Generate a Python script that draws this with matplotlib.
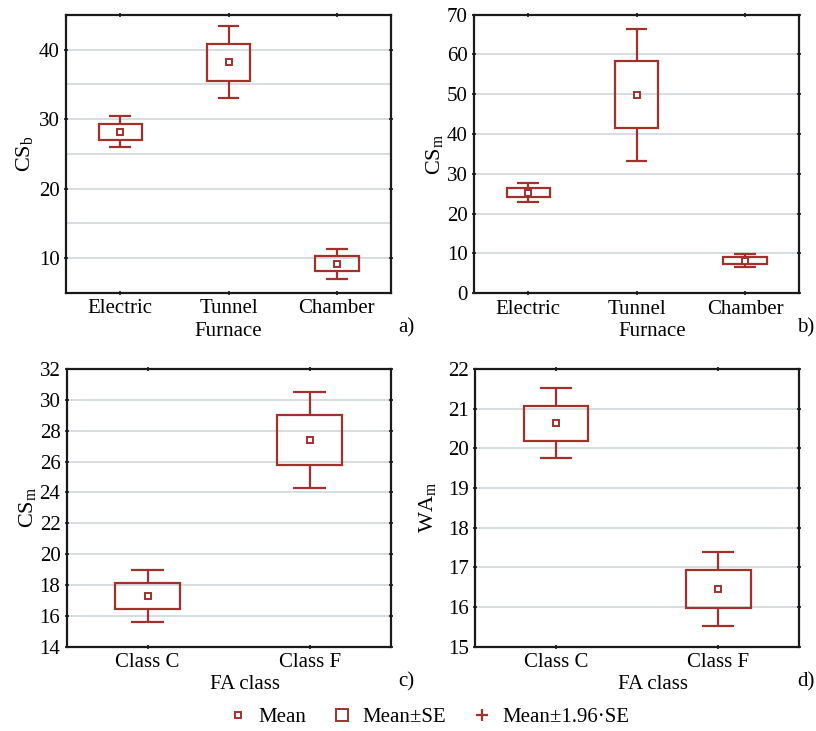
import numpy as np
import matplotlib
matplotlib.use('Agg')
import matplotlib.pyplot as plt
from matplotlib.lines import Line2D
from matplotlib.ticker import MultipleLocator

plt.rcParams['font.family'] = 'Liberation Serif'
plt.rcParams['mathtext.fontset'] = 'custom'
plt.rcParams['mathtext.rm'] = 'Liberation Serif'
plt.rcParams['mathtext.it'] = 'Liberation Serif'

# --- dados: média e erro padrão por grupo ---
fornos = ['Electric', 'Tunnel', 'Chamber']
csb_media = [28.2, 38.2, 9.2]
csb_ep = [1.15, 2.65, 1.1]
csm_forno_media = [25.3, 49.9, 8.2]
csm_forno_ep = [1.2, 8.45, 0.8]

classes = ['Class C', 'Class F']
csm_classe_media = [17.3, 27.4]
csm_classe_ep = [0.85, 1.6]
wam_media = [20.63, 16.45]
wam_ep = [0.45, 0.475]

COR = '#a2302c'
GRADE = '#d3dbde'


def desenhar_caixas(ax, nomes, media, ep, largura=0.4, tampa=0.2):
    x = np.arange(len(nomes))
    media = np.asarray(media)
    ep = np.asarray(ep)
    # caixa = média ± EP
    ax.bar(x, 2 * ep, bottom=media - ep, width=largura, fill=False,
           edgecolor=COR, linewidth=1.6, zorder=3)
    # bigodes = média ± 1.96·EP
    ax.vlines(x, media + ep, media + 1.96 * ep, color=COR, lw=1.6, zorder=3)
    ax.vlines(x, media - 1.96 * ep, media - ep, color=COR, lw=1.6, zorder=3)
    ax.hlines(media + 1.96 * ep, x - tampa / 2, x + tampa / 2, color=COR, lw=1.6, zorder=3)
    ax.hlines(media - 1.96 * ep, x - tampa / 2, x + tampa / 2, color=COR, lw=1.6, zorder=3)
    ax.plot(x, media, 's', ms=4, mfc='white', mec=COR, mew=1.4, zorder=4)
    ax.set_xlim(-0.5, len(nomes) - 0.5)
    ax.set_xticks(x)
    ax.set_xticklabels(nomes)


def estilo(ax, ylim, maior, menor=None):
    ax.set_ylim(*ylim)
    ax.yaxis.set_major_locator(MultipleLocator(maior))
    if menor:
        ax.yaxis.set_minor_locator(MultipleLocator(menor))
        ax.grid(True, axis='y', which='minor', color=GRADE, lw=1.3, zorder=0)
    ax.grid(True, axis='y', which='major', color=GRADE, lw=1.3, zorder=0)
    ax.set_axisbelow(True)
    for s in ax.spines.values():
        s.set_linewidth(1.6)
        s.set_color('#1a1a1a')
    ax.tick_params(which='major', direction='inout', length=3, width=1.2,
                   top=True, right=True, labelsize=15, pad=3, color='#1a1a1a')
    ax.tick_params(which='minor', length=0)


fig = plt.figure(figsize=(8.16, 7.31), dpi=100)
ax_a = fig.add_axes([0.0809, 0.5992, 0.3983, 0.3803])
ax_b = fig.add_axes([0.5809, 0.5988, 0.3986, 0.3811])
ax_c = fig.add_axes([0.0817, 0.1153, 0.3971, 0.3799])
ax_d = fig.add_axes([0.5821, 0.1153, 0.3974, 0.3799])

desenhar_caixas(ax_a, fornos, csb_media, csb_ep)
estilo(ax_a, (5, 45), 10, 5)
ax_a.set_ylabel(r'CS$_\mathrm{b}$', fontsize=16)
ax_a.yaxis.set_label_coords(-0.095, 0.5)
ax_a.set_xlabel('Furnace', fontsize=15)
ax_a.xaxis.set_label_coords(0.5, -0.104)

desenhar_caixas(ax_b, fornos, csm_forno_media, csm_forno_ep)
estilo(ax_b, (0, 70), 10)
ax_b.set_ylabel(r'CS$_\mathrm{m}$', fontsize=16)
ax_b.yaxis.set_label_coords(-0.089, 0.5)
ax_b.set_xlabel('Furnace', fontsize=15)
ax_b.xaxis.set_label_coords(0.547, -0.104)

desenhar_caixas(ax_c, classes, csm_classe_media, csm_classe_ep)
estilo(ax_c, (14, 32), 2)
ax_c.set_ylabel(r'CS$_\mathrm{m}$', fontsize=16)
ax_c.yaxis.set_label_coords(-0.089, 0.5)
ax_c.set_xlabel('FA class', fontsize=15)
ax_c.xaxis.set_label_coords(0.55, -0.102)

desenhar_caixas(ax_d, classes, wam_media, wam_ep)
estilo(ax_d, (15, 22), 1)
ax_d.set_ylabel(r'WA$_\mathrm{m}$', fontsize=16)
ax_d.yaxis.set_label_coords(-0.114, 0.5)
ax_d.set_xlabel('FA class', fontsize=15)
ax_d.xaxis.set_label_coords(0.549, -0.102)

for letra, x, y in [('a)', 398, 328), ('b)', 797, 328), ('c)', 398, 682), ('d)', 797, 682)]:
    fig.text(x / 816, 1 - y / 731, letra, fontsize=15, ha='left', va='center')

marcas = [
    Line2D([], [], ls='none', marker='s', ms=4, mfc='white', mec=COR, mew=1.4, label='Mean'),
    Line2D([], [], ls='none', marker='s', ms=8, mfc='white', mec=COR, mew=1.4, label='Mean±SE'),
    Line2D([], [], ls='none', marker='+', ms=8, mec=COR, mew=1.6, label='Mean±1.96·SE'),
]
fig.legend(handles=marcas, loc='center', bbox_to_anchor=(0.525, 1 - 717 / 731),
           ncol=3, frameon=False, fontsize=15, handlelength=1.0,
           handletextpad=0.5, columnspacing=1.2)

fig.savefig('out.png', dpi=100)
